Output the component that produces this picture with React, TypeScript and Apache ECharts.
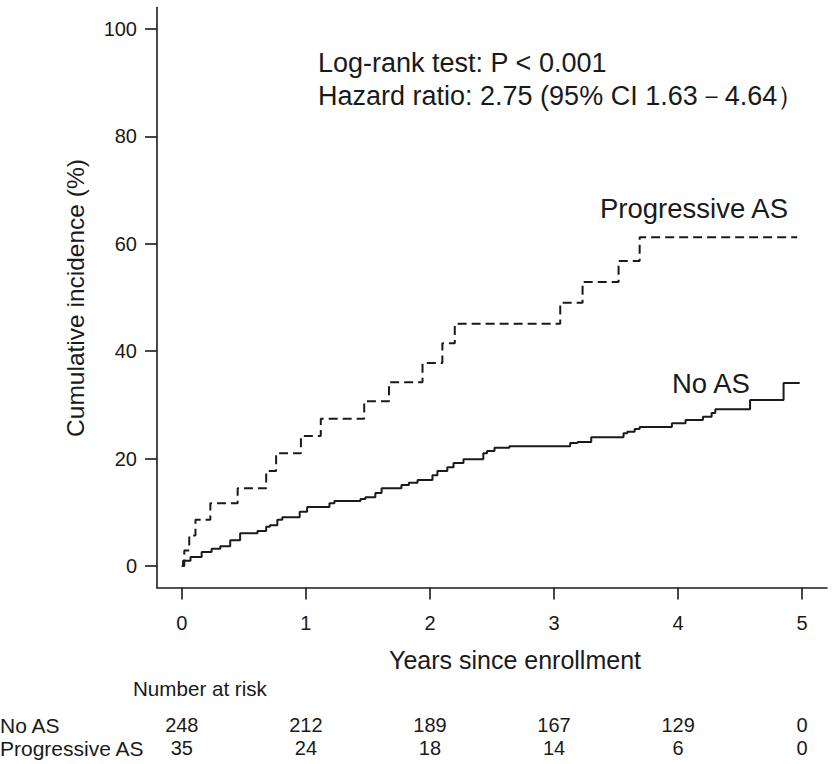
import React, { useEffect, useRef } from "react";
import * as echarts from "echarts";

const xTicks = [0, 1, 2, 3, 4, 5];
const yTicks = [0, 20, 40, 60, 80, 100];

const noAsTimes = [0, 0.01, 0.07, 0.16, 0.24, 0.31, 0.39, 0.47, 0.61, 0.68, 0.71, 0.77, 0.81, 0.95, 1.01, 1.19, 1.23, 1.44, 1.48, 1.56, 1.61, 1.77, 1.83, 1.9, 2.02, 2.06, 2.14, 2.19, 2.27, 2.43, 2.46, 2.52, 2.64, 3.13, 3.19, 3.3, 3.56, 3.59, 3.65, 3.69, 3.95, 4.06, 4.2, 4.27, 4.3, 4.58, 4.85, 4.98];
const noAsValues = [0, 1.0, 1.7, 2.6, 3.2, 3.7, 4.8, 6.1, 6.5, 7.3, 7.6, 8.6, 9.1, 10.1, 11.0, 11.7, 12.1, 12.5, 12.8, 13.6, 14.5, 15.1, 15.5, 16.0, 16.9, 17.7, 18.4, 19.2, 19.9, 21.0, 21.4, 22.0, 22.3, 22.9, 23.1, 24.0, 24.7, 25.0, 25.5, 25.9, 26.6, 27.2, 27.8, 28.5, 29.2, 30.9, 34.1, 34.1];

const progTimes = [0, 0.02, 0.06, 0.11, 0.23, 0.45, 0.68, 0.76, 0.96, 1.12, 1.47, 1.67, 1.94, 2.1, 2.2, 3.05, 3.23, 3.52, 3.69, 4.96];
const progValues = [0, 2.9, 5.7, 8.6, 11.7, 14.5, 17.7, 21.0, 24.2, 27.4, 30.7, 34.2, 37.8, 41.5, 45.1, 49.0, 52.9, 56.8, 61.2, 61.2];

const riskRowLabels = ["No AS", "Progressive AS"];
const riskNoAS = [248, 212, 189, 167, 129, 0];
const riskProg = [35, 24, 18, 14, 6, 0];

const FONT = "'Liberation Sans', Arial, Helvetica, sans-serif";
const INK = "#1a1a1a";

export default function App() {
  const ref = useRef<HTMLDivElement>(null);
  useEffect(() => {
    if (!ref.current) return;
    const chart = echarts.init(ref.current, undefined, { renderer: "svg" });
    const noAs = noAsTimes.map((t, i) => [t, noAsValues[i]]);
    const prog = progTimes.map((t, i) => [t, progValues[i]]);
    chart.setOption({
      animation: false,
      backgroundColor: "#ffffff",
      grid: { left: 157, width: 670, top: 7.5, height: 580, outerBoundsMode: "none" },
      xAxis: {
        type: "value",
        min: -0.2,
        max: 5.2,
        splitLine: { show: false },
        axisLine: { show: true, onZero: false, lineStyle: { color: INK, width: 1.6 } },
        axisTick: { show: true, customValues: xTicks, length: 12, lineStyle: { color: INK, width: 1.6 } },
        axisLabel: { customValues: xTicks, margin: 25, fontSize: 20, fontFamily: FONT, color: INK },
      },
      yAxis: {
        type: "value",
        min: -4,
        max: 104,
        splitLine: { show: false },
        axisLine: { show: true, onZero: false, lineStyle: { color: INK, width: 1.6 } },
        axisTick: { show: true, customValues: yTicks, length: 12, lineStyle: { color: INK, width: 1.6 } },
        axisLabel: { customValues: yTicks, margin: 20, fontSize: 20, fontFamily: FONT, color: INK },
      },
      series: [
        {
          name: "No AS",
          type: "line",
          step: "end",
          data: noAs,
          showSymbol: false,
          lineStyle: { color: INK, width: 2 },
        },
        {
          name: "Progressive AS",
          type: "line",
          step: "end",
          data: prog,
          showSymbol: false,
          lineStyle: { color: INK, width: 2, type: [9, 5] },
        },
      ],
    });

    const px = (t: number) => chart.convertToPixel({ gridIndex: 0 }, [t, 0])[0];
    const txt = (text: string, x: number, y: number, size: number, align = "left", extra: any = {}) => ({
      type: "text",
      x,
      y,
      ...extra,
      style: { text, fontSize: size, fontFamily: FONT, fill: INK, align, verticalAlign: "middle" },
    });
    const graphics: any[] = [
      txt("Cumulative incidence (%)", 75, 298, 24.5, "center", { rotation: Math.PI / 2 }),
      txt("Years since enrollment", 515, 660, 25, "center"),
      txt("Log-rank test: P < 0.001", 318, 63, 27),
      txt("Hazard ratio: 2.75 (95% CI 1.63－4.64）", 318, 96, 27),
      txt("Progressive AS", 600, 208, 27.5),
      txt("No AS", 672, 383, 27.5),
      txt("Number at risk", 133, 688, 20.6),
      txt(riskRowLabels[0], 0, 725, 21),
      txt(riskRowLabels[1], 0, 748, 21),
    ];
    xTicks.forEach((t, i) => {
      graphics.push(txt(String(riskNoAS[i]), px(t), 725, 20, "center"));
      graphics.push(txt(String(riskProg[i]), px(t), 748, 20, "center"));
    });
    chart.setOption({ graphic: graphics });
    return () => chart.dispose();
  }, []);
  return <div ref={ref} style={{ width: 832, height: 764, position: "absolute", left: 0, top: 0 }} />;
}
